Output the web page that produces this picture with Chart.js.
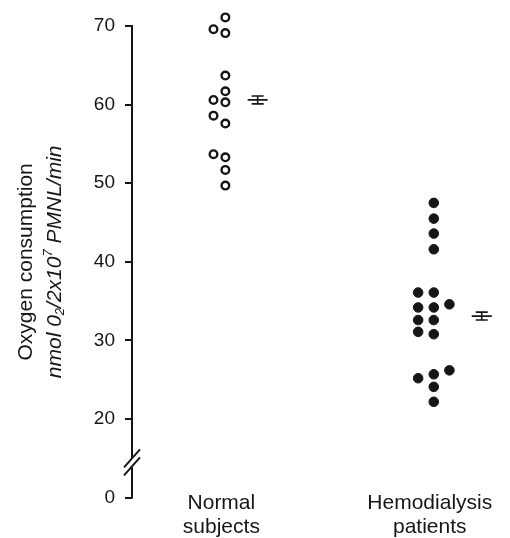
<!DOCTYPE html>
<html>
<head>
<meta charset="utf-8">
<script src="https://cdn.jsdelivr.net/npm/chart.js@4.4.1/dist/chart.umd.min.js"></script>
<style>
  html, body { margin: 0; padding: 0; background: #ffffff; }
  canvas { display: block; }
</style>
</head>
<body>
<canvas id="chart" width="510" height="538"></canvas>
<script>
// ---- Data ----
const categories = [['Normal', 'subjects'], ['Hemodialysis', 'patients']];
const normalValues = [71.1, 69.6, 69.1, 63.7, 61.7, 60.6, 60.3, 58.6, 57.6, 53.7, 53.3, 51.7, 49.7];
const hemodialysisValues = [47.5, 45.5, 43.6, 41.6, 36.1, 36.1, 34.6, 34.2, 34.2, 32.6, 32.6, 31.1, 30.8, 26.2, 25.7, 25.2, 24.1, 22.2];
const groupMeans = [60.6, 33.1];
const groupSEM = [0.5, 0.5];
const yTickLabels = ['0', '20', '30', '40', '50', '60', '70'];
const yTitleLine1 = 'Oxygen consumption';
const yTitleLine2 = [['nmol 0', 'base'], ['2', 'sub'], ['/2x10', 'base'], ['7', 'sup'], [' PMNL/min', 'base']];
// broken axis: the "0" tick is drawn where 10 would be
const axisBreak = { realValue: 0, drawnAt: 10, markAt: 14.5 };
const yAxisTop = 70;      // last labelled tick
const yScaleMax = 72;     // a little head room so the highest dot is drawn

// ---- helpers ----
const ink = '#161616';
const FONT = '"Liberation Sans", Arial, Helvetica, sans-serif';
const tickPos = v => (v <= axisBreak.realValue ? axisBreak.drawnAt : v);

// deterministic dot-plot (beeswarm) column assignment, placed from lowest value up
function swarmColumns(values, sep) {
  const order = values.map((v, i) => i).sort((a, b) => values[a] - values[b]);
  const placed = [];
  const cols = new Array(values.length).fill(0);
  order.forEach(i => {
    const v = values[i];
    for (const col of [0, -1, 1, -2, 2]) {
      if (!placed.some(p => p.col === col && Math.abs(p.v - v) < sep)) {
        placed.push({ v, col });
        cols[i] = col;
        return;
      }
    }
  });
  return cols;
}
const SEP = 1.35;
const colSteps = [0.057, 0.075];
const normalCols = swarmColumns(normalValues, SEP);
const hemoCols = swarmColumns(hemodialysisValues, SEP);
const allCols = [normalCols, hemoCols];

const normalPoints = normalValues.map((v, i) => ({ x: 1 + normalCols[i] * colSteps[0], y: v }));
const hemoPoints = hemodialysisValues.map((v, i) => ({ x: 2 + hemoCols[i] * colSteps[1], y: v }));

const decor = {
  id: 'decor',
  afterDraw(chart) {
    const { ctx, scales: { x, y }, chartArea } = chart;
    const ax = chartArea.left;
    ctx.save();
    ctx.strokeStyle = ink;
    ctx.fillStyle = ink;
    // axis line with break
    const yTop = y.getPixelForValue(yAxisTop) - 1;
    const yBot = y.getPixelForValue(tickPos(0)) + 1;
    const cy = y.getPixelForValue(axisBreak.markAt);
    ctx.lineWidth = 2;
    ctx.beginPath();
    ctx.moveTo(ax, yTop); ctx.lineTo(ax, cy - 4);
    ctx.moveTo(ax, cy + 4); ctx.lineTo(ax, yBot);
    ctx.stroke();
    ctx.beginPath();
    for (const d of [-4, 4]) {
      ctx.moveTo(ax - 8, cy + d + 9);
      ctx.lineTo(ax + 8, cy + d - 9);
    }
    ctx.stroke();

    // mean ± SEM markers
    ctx.lineWidth = 1.6;
    allCols.forEach((cols, i) => {
      const xv = (i + 1) + Math.max(...cols) * colSteps[i] + 0.155;
      const px = x.getPixelForValue(xv);
      const pm = y.getPixelForValue(groupMeans[i]);
      const pt = y.getPixelForValue(groupMeans[i] + groupSEM[i]);
      const pb = y.getPixelForValue(groupMeans[i] - groupSEM[i]);
      ctx.beginPath();
      ctx.moveTo(px - 10, pm); ctx.lineTo(px + 10, pm);
      ctx.moveTo(px - 6, pt); ctx.lineTo(px + 6, pt);
      ctx.moveTo(px - 6, pb); ctx.lineTo(px + 6, pb);
      ctx.moveTo(px, pt); ctx.lineTo(px, pb);
      ctx.stroke();
    });

    // y-axis title (two lines, second italic with sub/superscript)
    const cyTitle = (y.getPixelForValue(yAxisTop) + y.getPixelForValue(tickPos(0))) / 2;
    ctx.textBaseline = 'middle';
    ctx.textAlign = 'center';
    ctx.font = '21px ' + FONT;
    ctx.save();
    ctx.translate(26, cyTitle);
    ctx.rotate(-Math.PI / 2);
    ctx.fillText(yTitleLine1, 0, 0);
    ctx.restore();

    const baseFont = 'italic 21px ' + FONT;
    const smallFont = 'italic 13px ' + FONT;
    let total = 0;
    const widths = yTitleLine2.map(([t, kind]) => {
      ctx.font = kind === 'base' ? baseFont : smallFont;
      const w = ctx.measureText(t).width;
      total += w;
      return w;
    });
    ctx.save();
    ctx.translate(55, cyTitle);
    ctx.rotate(-Math.PI / 2);
    ctx.textAlign = 'left';
    let cx = -total / 2;
    yTitleLine2.forEach(([t, kind], i) => {
      ctx.font = kind === 'base' ? baseFont : smallFont;
      const dy = kind === 'sub' ? 5 : (kind === 'sup' ? -7 : 0);
      ctx.fillText(t, cx, dy);
      cx += widths[i];
    });
    ctx.restore();
    ctx.restore();
  }
};

new Chart(document.getElementById('chart'), {
  type: 'scatter',
  data: {
    datasets: [
      {
        label: 'Normal subjects',
        data: normalPoints,
        pointStyle: 'circle',
        pointRadius: 3.8,
        pointBorderWidth: 2.4,
        pointBorderColor: ink,
        pointBackgroundColor: '#ffffff',
        clip: false
      },
      {
        label: 'Hemodialysis patients',
        data: hemoPoints,
        pointStyle: 'circle',
        pointRadius: 4.8,
        pointBorderWidth: 1,
        pointBorderColor: ink,
        pointBackgroundColor: ink,
        clip: false
      }
    ]
  },
  options: {
    responsive: false,
    devicePixelRatio: 1,
    animation: false,
    events: [],
    layout: { padding: { top: 10.3, left: 0, right: 0, bottom: 40.3 } },
    plugins: { legend: { display: false }, tooltip: { enabled: false } },
    scales: {
      x: {
        type: 'linear',
        position: { y: axisBreak.drawnAt },
        min: 0.552,
        max: 2.335,
        afterBuildTicks: s => { s.ticks = categories.map((c, i) => ({ value: i + 1 })); },
        afterFit: s => { s.paddingLeft = 0; s.paddingRight = 0; },
        grid: { display: false },
        border: { display: false },
        ticks: {
          callback: (v, i) => categories[i],
          color: ink,
          font: { family: FONT, size: 21, lineHeight: 1.15 },
          padding: -15,
          labelOffset: -4,
          autoSkip: false,
          maxRotation: 0,
          minRotation: 0
        }
      },
      y: {
        type: 'linear',
        min: axisBreak.drawnAt,
        max: yScaleMax,
        afterBuildTicks: s => { s.ticks = yTickLabels.map(l => ({ value: tickPos(Number(l)) })); },
        afterFit: s => { s.width = 132; s.paddingTop = 0; s.paddingBottom = 0; },
        grid: { drawOnChartArea: false, drawTicks: true, tickLength: 7, color: ink, lineWidth: 2 },
        border: { display: false },
        ticks: {
          callback: (v, i) => yTickLabels[i],
          color: ink,
          font: { family: FONT, size: 19 },
          padding: 10
        }
      }
    }
  },
  plugins: [decor]
});
</script>
</body>
</html>
